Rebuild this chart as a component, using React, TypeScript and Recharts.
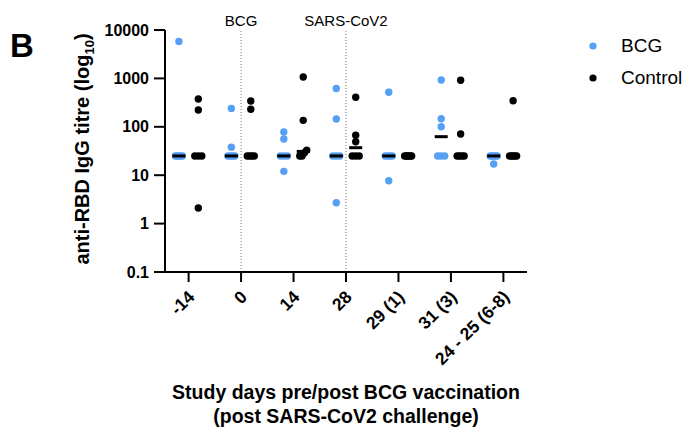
import { Label, Legend, ReferenceLine, Scatter, ScatterChart, XAxis, YAxis } from 'recharts';

const days = ['-14', '0', '14', '28', '29 (1)', '31 (3)', '24 - 25 (6-8)'];
const groups = ['BCG', 'Control'];

// anti-RBD IgG titres per animal, one inner list per study day
const bcgTitres = [
  [5800, 25, 25, 25, 25, 25],
  [240, 38, 25, 25, 25, 25],
  [78, 56, 25, 25, 25, 12],
  [620, 145, 25, 25, 25, 2.7],
  [516, 25, 25, 25, 25, 7.7],
  [927, 147, 100, 25, 25, 25],
  [25, 25, 25, 25, 25, 17],
];
const controlTitres = [
  [375, 222, 25, 25, 25, 2.1],
  [341, 230, 25, 25, 25, 25],
  [1070, 136, 33, 29, 25, 25],
  [407, 67, 49, 25, 25, 25],
  [25, 25, 25, 25, 25, 25],
  [915, 71, 25, 25, 25, 25],
  [346, 25, 25, 25, 25, 25],
];

const yTicks = [0.1, 1, 10, 100, 1000, 10000];
const dayTicks = [0, 1, 2, 3, 4, 5, 6];
const events = [
  { day: 1, text: 'BCG' },
  { day: 3, text: 'SARS-CoV2' },
];

const BLUE = '#55a0f4';
const FONT = 'Arial, "Liberation Sans", Helvetica, sans-serif';
const PX_PER_DAY = 362 / 6.9;
const SHIFT = 0.185;

function median(values: number[]) {
  const s = [...values].sort((a, b) => a - b);
  const m = Math.floor(s.length / 2);
  return s.length % 2 ? s[m] : (s[m - 1] + s[m]) / 2;
}

// spread overlapping points sideways, like a column scatter
function spread(values: number[], centre: number) {
  const sorted = [...values].sort((a, b) => a - b);
  const out: { x: number; y: number }[] = [];
  let cluster: number[] = [];
  const flush = () => {
    const n = cluster.length;
    const w = Math.min(7, 3.5 * (n - 1));
    cluster.forEach((y, i) => {
      const dx = n > 1 ? -w / 2 + (w * i) / (n - 1) : 0;
      out.push({ x: centre + dx / PX_PER_DAY, y });
    });
    cluster = [];
  };
  sorted.forEach((y) => {
    if (cluster.length && Math.log10(y) - Math.log10(cluster[cluster.length - 1]) > 0.07) flush();
    cluster.push(y);
  });
  flush();
  return out;
}

const bcgPoints = bcgTitres.flatMap((v, i) => spread(v, i - SHIFT));
const controlPoints = controlTitres.flatMap((v, i) => spread(v, i + SHIFT));
const medians = [
  ...bcgTitres.map((v, i) => ({ x: i - SHIFT, y: median(v) })),
  ...controlTitres.map((v, i) => ({ x: i + SHIFT, y: median(v) })),
];

const dot = (color: string) => (p: any) => <circle cx={p.cx} cy={p.cy} r={3.7} fill={color} />;
const medianBar = (p: any) => <rect x={p.cx - 6.5} y={p.cy - 1.5} width={13} height={3} fill="#000" />;

const DayTick = ({ x, y, payload }: any) => {
  const tx = x + 7;
  const ty = y + 14;
  return (
    <text x={tx} y={ty} transform={`rotate(-45 ${tx} ${ty})`} textAnchor="end"
      fontFamily={FONT} fontWeight={700} fontSize={17.5} fill="#000">
      {days[payload.value]}
    </text>
  );
};

const XTitle = ({ viewBox }: any) => {
  const cx = viewBox.x + viewBox.width / 2;
  return (
    <text textAnchor="middle" fontFamily={FONT} fontWeight={700} fontSize={19.5} fill="#000">
      <tspan x={cx} y={viewBox.y + 127}>Study days pre/post BCG vaccination</tspan>
      <tspan x={cx} y={viewBox.y + 151}>(post SARS-CoV2 challenge)</tspan>
    </text>
  );
};

const YTitle = ({ viewBox }: any) => {
  const tx = viewBox.x + 24;
  const ty = viewBox.y + viewBox.height / 2 - 2;
  return (
    <text transform={`translate(${tx} ${ty}) rotate(-90)`} textAnchor="middle"
      fontFamily={FONT} fontWeight={700} fontSize={20} fill="#000">
      anti-RBD IgG titre (log<tspan fontSize={13} dy={5}>10</tspan><tspan dy={-5}>)</tspan>
    </text>
  );
};

const PanelLetter = () => (
  <text x={10} y={57} fontFamily={FONT} fontWeight={700} fontSize={33} fill="#000">B</text>
);

const GroupLegend = ({ payload }: any) => (
  <div style={{ fontFamily: FONT, fontSize: 19, color: '#000' }}>
    {(payload || []).filter((e: any) => groups.includes(e.value)).map((e: any) => (
      <div key={e.value} style={{ display: 'flex', alignItems: 'center', height: 32 }}>
        <svg width={16} height={8}>
          <circle cx={8} cy={4} r={3.6} fill={e.value === 'BCG' ? BLUE : '#000'} />
        </svg>
        <span style={{ marginLeft: 20 }}>{e.value}</span>
      </div>
    ))}
  </div>
);

const axisStroke = { stroke: '#000', strokeWidth: 2 };

export default function App() {
  return (
    <div style={{ position: 'absolute', left: 0, top: 0, width: 685, height: 430, background: '#fff' }}>
      <ScatterChart width={685} height={430} margin={{ top: 30, right: 158, bottom: 28, left: 65 }}>
        <XAxis type="number" dataKey="x" domain={[-0.45, 6.45]} ticks={dayTicks} interval={0}
          allowDataOverflow height={130} tickSize={10} tickMargin={2}
          axisLine={axisStroke} tickLine={axisStroke} tick={<DayTick />}>
          <Label content={XTitle} />
        </XAxis>
        <YAxis type="number" dataKey="y" scale="log" domain={[0.1, 10000]} ticks={yTicks} interval={0}
          allowDataOverflow width={100} tickSize={11} tickMargin={5}
          tickFormatter={(v: number) => String(v)}
          axisLine={axisStroke} tickLine={axisStroke}
          tick={{ fill: '#000', fontSize: 16, fontWeight: 700, fontFamily: FONT }}>
          <Label content={YTitle} />
          <Label content={PanelLetter} />
        </YAxis>
        {events.map((ev) => (
          <ReferenceLine key={ev.text} x={ev.day} stroke="#777" strokeDasharray="1 2"
            label={{ value: ev.text, position: 'top', offset: 4, fill: '#000', fontSize: 15, fontFamily: FONT }} />
        ))}
        <Legend layout="vertical" align="center" verticalAlign="middle" content={GroupLegend}
          wrapperStyle={{ left: 585, top: 30, width: 100 }} />
        <Scatter name="BCG" data={bcgPoints} fill={BLUE} shape={dot(BLUE)} isAnimationActive={false} />
        <Scatter name="Control" data={controlPoints} fill="#000" shape={dot('#000')} isAnimationActive={false} />
        <Scatter name="median" data={medians} fill="#000" shape={medianBar} legendType="none" isAnimationActive={false} />
      </ScatterChart>
    </div>
  );
}
